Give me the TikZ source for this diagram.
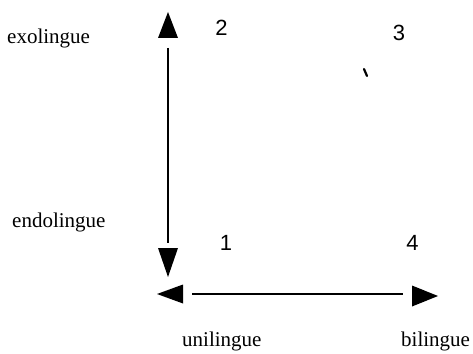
\documentclass[tikz,border=0pt]{standalone}
\usepackage{fontspec}
\setmainfont{Liberation Serif}
\newfontfamily\digitfont{Liberation Sans}
\usetikzlibrary{calc}
\tikzset{
  lbl/.style={font=\fontsize{21}{21}\selectfont, inner sep=0pt, anchor=base west},
  num/.style={font=\digitfont\fontsize{22}{22}\selectfont, inner sep=0pt, anchor=center},
  axis/.style={line width=2.2pt, draw=black},
  tiphead/.style={fill=black},
}
\begin{document}
\begin{tikzpicture}[x=1pt,y=-1pt]
\useasboundingbox (0,0) rectangle (473,353);
% arrow tip points
\coordinate (vtop) at (168,12);
\coordinate (vbot) at (168,277);
\coordinate (hleft) at (157,294);
\coordinate (hright) at (438,296);
% shafts
\draw[axis, shorten <=36pt, shorten >=34pt] (vtop) -- (vbot);
\draw[axis, line width=2pt, shorten <=35pt, shorten >=35pt] (hleft) -- ($(hright)+(0,-2)$);
% heads
\fill[tiphead] (vtop) -- ++(-10,26) -- ++(20,0) -- cycle;
\fill[tiphead] (vbot) -- ++(-10,-29) -- ++(20,0) -- cycle;
\fill[tiphead] (hleft) -- ++(26,-9.5) -- ++(0,19) -- cycle;
\fill[tiphead] (hright) -- ++(-26,-10.5) -- ++(0,21) -- cycle;
% labels
\node[lbl] (exo) at (7,44) {exolingue};
\node[lbl] (endo) at (12,227) {endolingue};
\node[lbl] (uni) at (182,346) {unilingue};
\node[lbl] (bi) at (401,346) {bilingue};
% quadrant numbers
\node[num] (n2) at (221.5,27.5) {2};
\node[num] (n3) at (399,32.5) {3};
\node[num] (n1) at (226,242.5) {1};
\node[num] (n4) at (412.5,242.5) {4};
% small mark
\coordinate (m1) at (364,69);
\coordinate (m2) at (367,76);
\draw[line width=2.2pt, line cap=round] (m1) -- (m2);
\end{tikzpicture}
\end{document}
